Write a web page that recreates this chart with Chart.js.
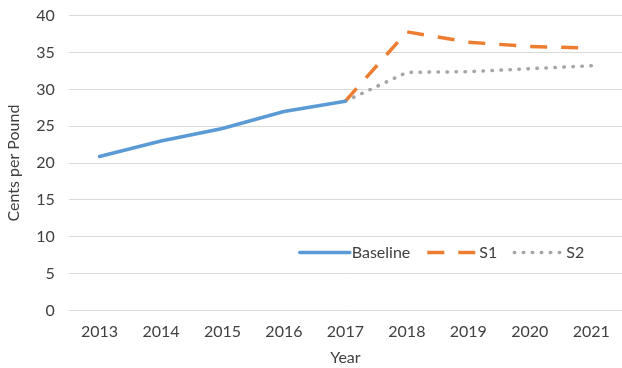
<!DOCTYPE html>
<html lang="en">
<head>
    <meta charset="UTF-8">
    <title>Cents per Pound</title>
    <script src="https://cdn.jsdelivr.net/npm/chart.js@4.4.1/dist/chart.umd.min.js"></script>
    <style>
        html, body { margin: 0; padding: 0; background: #fff; overflow: hidden; }
        #wrap { width: 622px; height: 368px; position: relative; overflow: hidden; }
        /* taller box pulled up a little so the plot starts near the top edge */
        #inner { position: absolute; left: 0; top: -8px; width: 622px; height: 376px; }
    </style>
</head>
<body>
    <div id="wrap"><div id="inner"><canvas id="chart"></canvas></div></div>
    <script>
    const years = ['2013', '2014', '2015', '2016', '2017', '2018', '2019', '2020', '2021'];
    const baseline = [20.9, 23.0, 24.7, 27.0, 28.4, null, null, null, null];
    const s1 = [null, null, null, null, 28.4, 37.8, 36.4, 35.8, 35.6];
    const s2 = [null, null, null, null, 28.4, 32.3, 32.4, 32.8, 33.2];

    const FONT = 'Lato, "Open Sans", sans-serif';
    const TEXT = '#404040';
    const SIZE = 16;

    // legend sits inside the plot, near the bottom right
    const insideLegend = {
        id: 'insideLegend',
        afterDraw(chart) {
            const ctx = chart.ctx;
            const area = chart.chartArea;
            let x = area.left + 231;
            const y = area.bottom - 58;
            ctx.save();
            ctx.font = SIZE + 'px ' + FONT;
            ctx.textBaseline = 'middle';
            chart.data.datasets.forEach(ds => {
                ctx.beginPath();
                ctx.strokeStyle = ds.borderColor;
                ctx.lineWidth = ds.borderWidth;
                ctx.lineCap = ds.borderCapStyle || 'butt';
                ctx.setLineDash(ds.borderDash || []);
                ctx.moveTo(x, y);
                ctx.lineTo(x + 50, y);
                ctx.stroke();
                ctx.setLineDash([]);
                ctx.fillStyle = TEXT;
                ctx.fillText(ds.label, x + 52, y);
                x += 52 + ctx.measureText(ds.label).width + 17;
            });
            ctx.restore();
        }
    };

    new Chart(document.getElementById('chart'), {
        type: 'line',
        data: {
            labels: years,
            datasets: [
                {
                    label: 'Baseline',
                    data: baseline,
                    borderColor: '#5B9BD5',
                    borderWidth: 3.5,
                    borderCapStyle: 'round',
                    pointRadius: 0,
                    tension: 0
                },
                {
                    label: 'S1',
                    data: s1,
                    borderColor: '#ED7D31',
                    borderWidth: 3.5,
                    borderDash: [17, 14],
                    pointRadius: 0,
                    tension: 0
                },
                {
                    label: 'S2',
                    data: s2,
                    borderColor: '#A5A5A5',
                    borderWidth: 3.5,
                    borderDash: [0.5, 8.5],
                    borderCapStyle: 'round',
                    pointRadius: 0,
                    tension: 0
                }
            ]
        },
        options: {
            responsive: true,
            maintainAspectRatio: false,
            animation: false,
            layout: { padding: { top: 0, right: -9, bottom: 1, left: 0 } },
            plugins: {
                legend: { display: false },
                tooltip: { enabled: false }
            },
            scales: {
                x: {
                    offset: true,
                    grid: { display: false, offset: true },
                    border: { display: false },
                    ticks: { color: TEXT, font: { family: FONT, size: SIZE }, padding: 4, maxRotation: 0, autoSkip: false },
                    title: { display: true, text: 'Year', color: TEXT, font: { family: FONT, size: SIZE }, padding: { top: 2, bottom: 0 } }
                },
                y: {
                    min: 0,
                    max: 40,
                    grid: { color: '#D9D9D9', lineWidth: 1, drawTicks: false },
                    border: { display: false },
                    ticks: { stepSize: 5, color: TEXT, font: { family: FONT, size: SIZE }, padding: 14 },
                    title: { display: true, text: 'Cents per Pound', color: TEXT, font: { family: FONT, size: SIZE }, padding: { top: 4, bottom: -1 } }
                }
            }
        },
        plugins: [insideLegend]
    });
    </script>
</body>
</html>
